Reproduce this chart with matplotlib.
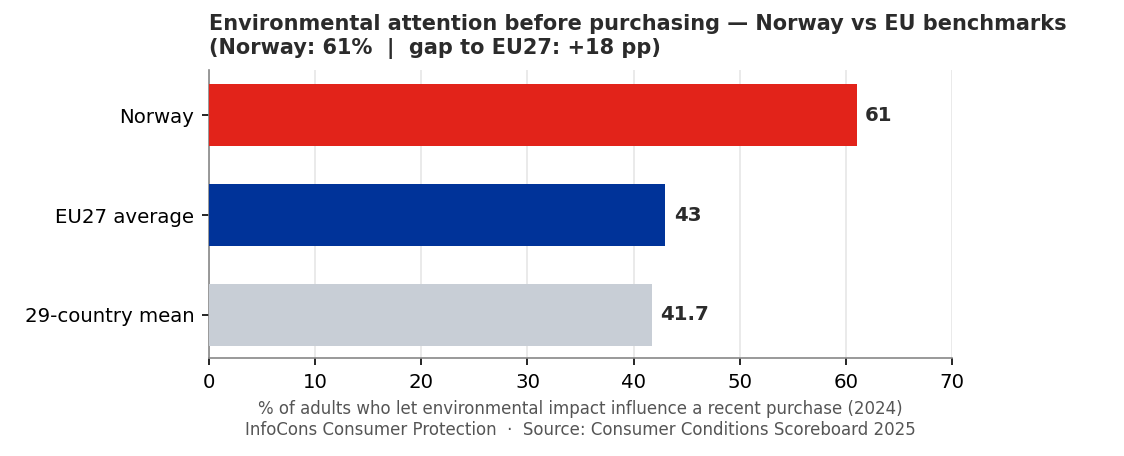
import matplotlib.pyplot as plt

labels = ["Norway", "EU27 average", "29-country mean"]
values = [61, 43, 41.7]
value_text = ["61", "43", "41.7"]
colors = ["#e2231a", "#003399", "#c8ced6"]

fig = plt.figure(figsize=(1124 / 150, 456 / 150), dpi=150)
ax = fig.add_axes([0.186, 0.215, 0.661, 0.631])

ypos = list(range(len(labels)))[::-1]
ax.barh(ypos, values, height=0.62, color=colors, zorder=3)
for y, v, t in zip(ypos, values, value_text):
    ax.text(v + 0.8, y, t, va="center", ha="left", fontsize=9.5,
            fontweight="bold", color="#2b2b2b")

ax.set_yticks(ypos)
ax.set_yticklabels(labels, fontsize=9.5)
ax.set_xlim(0, 70)
ax.set_xticks(range(0, 71, 10))
ax.tick_params(axis="x", labelsize=9.5)
ax.set_ylim(-0.43, 2.45)
ax.grid(axis="x", color="#e6e6e6", linewidth=0.8, zorder=0)
for s in ["top", "right"]:
    ax.spines[s].set_visible(False)
for s in ["left", "bottom"]:
    ax.spines[s].set_color("#888888")

ax.set_title("Environmental attention before purchasing — Norway vs EU benchmarks\n"
             "(Norway: 61%  |  gap to EU27: +18 pp)",
             loc="left", fontsize=10, fontweight="bold", color="#2b2b2b", pad=8)
ax.set_xlabel("% of adults who let environmental impact influence a recent purchase (2024)\n"
              "InfoCons Consumer Protection  ·  Source: Consumer Conditions Scoreboard 2025",
              fontsize=8, color="#555555", labelpad=4)

fig.savefig("out.png", dpi=150)
